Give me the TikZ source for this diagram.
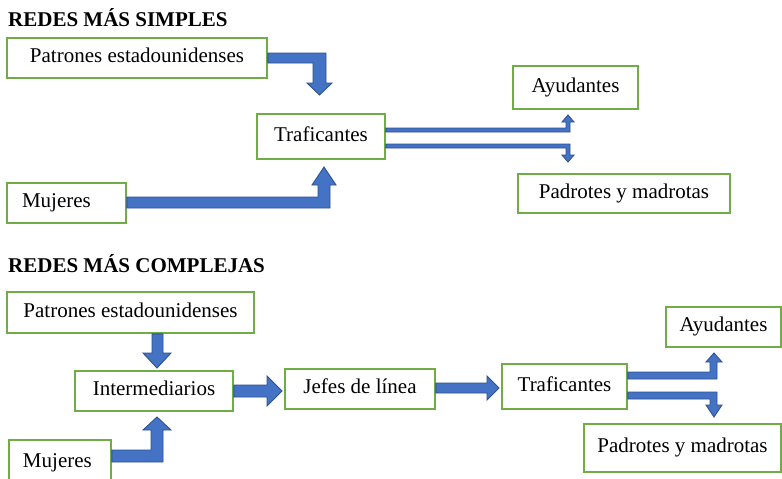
\documentclass[tikz,border=0pt]{standalone}
\usepackage{fontspec}
\setmainfont{Liberation Serif}
\definecolor{boxgreen}{HTML}{70AD47}
\definecolor{arrowfill}{HTML}{4472C4}
\definecolor{arrowline}{HTML}{2F528F}
\begin{document}
\begin{tikzpicture}[x=1pt,y=-1pt,
  box/.style={draw=boxgreen, line width=1.6pt, fill=white, inner sep=0pt,
    font=\fontsize{21}{25}\selectfont, text height=14.5pt, text depth=4.6pt},
  barrow/.style={fill=arrowfill, draw=arrowline, line width=0.9pt, line join=miter},
  ttl/.style={font=\fontsize{21}{25}\selectfont\bfseries, anchor=base west, inner sep=0pt}]
\useasboundingbox[fill=white] (0,0) rectangle (782,479);

% ---------- top: simpler networks ----------
\node[ttl] (t1) at (8,27) {REDES MÁS SIMPLES};
\node[box, minimum width=260pt, minimum height=40pt] (patA) at (137,58) {Patrones estadounidenses};
\node[box, minimum width=128pt, minimum height=45pt] (trafA) at (321,136.5) {Traficantes};
\node[box, minimum width=119pt, minimum height=40pt, inner xsep=15pt, text width=89pt, align=left] (mujA) at (66.5,203) {Mujeres};
\node[box, minimum width=125pt, minimum height=43pt] (ayuA) at (575.5,87.5) {Ayudantes};
\node[box, minimum width=212pt, minimum height=39pt] (padA) at (624,193.5) {Padrotes y madrotas};

% patrones -> traficantes
\path[barrow] (patA.east |- 0,53) -- (326,53) -- (326,83) -- (332,83) -- (319.5,95) -- (307,83) -- (313,83) -- (313,63) -- (patA.east |- 0,63) -- cycle;
% mujeres -> traficantes
\path[barrow] (mujA.east |- 0,197) -- (318,197) -- (318,185) -- (312,185) -- (324,167) -- (336,185) -- (330,185) -- (330,208) -- (mujA.east |- 0,208) -- cycle;
% traficantes -> ayudantes
\path[barrow] (trafA.east |- 0,128) -- (566,128) -- (566,122) -- (562,122) -- (568,115) -- (574,122) -- (570,122) -- (570,132) -- (trafA.east |- 0,132) -- cycle;
% traficantes -> padrotes
\path[barrow] (trafA.east |- 0,144) -- (570,144) -- (570,155) -- (574,155) -- (568,162) -- (562,155) -- (566,155) -- (566,148) -- (trafA.east |- 0,148) -- cycle;

% ---------- bottom: more complex networks ----------
\node[ttl] (t2) at (8,272) {REDES MÁS COMPLEJAS};
\node[box, minimum width=247pt, minimum height=41pt] (patB) at (130.5,312.5) {Patrones estadounidenses};
\node[box, minimum width=158pt, minimum height=40pt] (intB) at (154,391) {Intermediarios};
\node[box, minimum width=150pt, minimum height=40pt] (jefB) at (360,389) {Jefes de línea};
\node[box, minimum width=125pt, minimum height=45pt] (trafB) at (564.5,386.5) {Traficantes};
\node[box, minimum width=115pt, minimum height=40pt] (ayuB) at (723.5,327) {Ayudantes};
\node[box, minimum width=197pt, minimum height=48pt] (padB) at (682.5,448) {Padrotes y madrotas};
\node[box, minimum width=102pt, minimum height=46pt, inner xsep=14pt, text width=74pt, align=left] (mujB) at (60,463) {Mujeres};

% patrones -> intermediarios
\path[barrow] (152,0 |- patB.south) -- (152,353) -- (143,353) -- (157,368) -- (171,353) -- (163,353) -- (163,0 |- patB.south) -- cycle;
% mujeres -> intermediarios
\path[barrow] (mujB.east |- 0,450) -- (151,450) -- (151,430) -- (143,430) -- (157,417) -- (171,430) -- (163,430) -- (163,462) -- (mujB.east |- 0,462) -- cycle;
% intermediarios -> jefes
\path[barrow] (intB.east |- 0,385) -- (267,385) -- (267,376) -- (282,391) -- (267,406) -- (267,397) -- (intB.east |- 0,397) -- cycle;
% jefes -> traficantes
\path[barrow] (jefB.east |- 0,383) -- (487,383) -- (487,376) -- (499,388) -- (487,400) -- (487,393) -- (jefB.east |- 0,393) -- cycle;
% traficantes -> ayudantes
\path[barrow] (trafB.east |- 0,372) -- (710,372) -- (710,362) -- (706,362) -- (714,353) -- (722,362) -- (717,362) -- (717,379) -- (trafB.east |- 0,379) -- cycle;
% traficantes -> padrotes
\path[barrow] (trafB.east |- 0,392) -- (717,392) -- (717,405) -- (722,405) -- (714,417) -- (706,405) -- (710,405) -- (710,399) -- (trafB.east |- 0,399) -- cycle;
\end{tikzpicture}
\end{document}
